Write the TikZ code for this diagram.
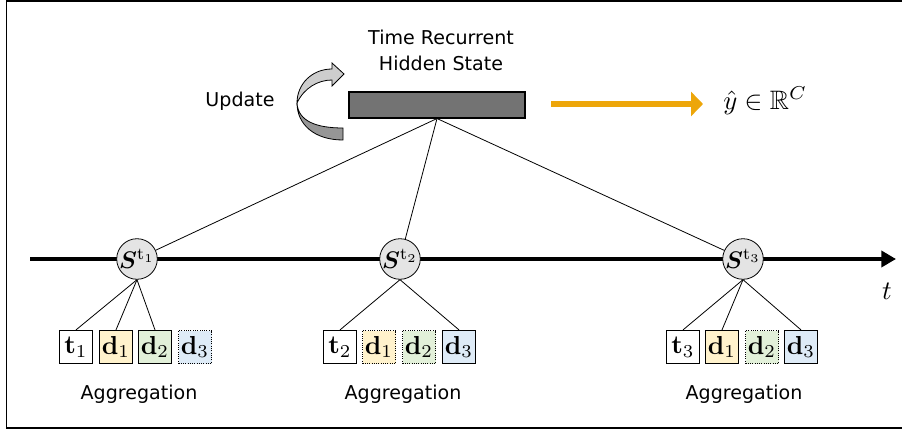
\documentclass[tikz,border=0pt]{standalone}
\usepackage{graphicx}
\usepackage{amsmath,amssymb,bm}
\usepackage[no-math]{fontspec}
\setmainfont{DejaVu Sans}
\usetikzlibrary{arrows.meta}
\definecolor{circgray}{RGB}{228,228,228}
\definecolor{hsgray}{RGB}{115,115,115}
\definecolor{orangeA}{RGB}{237,166,10}
\definecolor{dAfill}{RGB}{255,242,204}
\definecolor{dBfill}{RGB}{226,240,217}
\definecolor{dCfill}{RGB}{222,235,247}
\definecolor{arrlight}{RGB}{205,205,205}
\definecolor{arrdark}{RGB}{150,150,150}
\newcommand{\bxm}[1]{\scalebox{1.95}{$#1$}}
\newcommand{\stm}[1]{\scalebox{1.8}{$\boldsymbol{S}^{\mathrm{t}_{#1}}$}}
\begin{document}
\begin{tikzpicture}[x=0.75pt,y=-0.75pt,
  lbl/.style={font=\fontsize{14.3}{19.5}\selectfont, inner sep=0pt, align=center},
  snode/.style={circle, draw, fill=circgray, minimum size=30pt, inner sep=0pt, line width=0.6pt, font=\fontsize{10}{12}\selectfont},
  box/.style={draw, minimum size=24.75pt, inner sep=0pt, line width=0.9pt, font=\fontsize{10}{12}\selectfont},
  dbox/.style={box, line width=0.7pt, densely dotted},
  conn/.style={line width=0.6pt},
]
\useasboundingbox (0,0) rectangle (902,431);
% frame
\draw[line width=1.4pt] (902,1) -- (6.5,1) -- (6.5,428) -- (902,428);

% timeline
\coordinate (tl0) at (30,259);
\coordinate (tl1) at (896,259);
\draw[line width=3pt, -{Triangle[length=11pt,width=12pt]}] (tl0) -- (tl1);
\node[font=\fontsize{10}{12}\selectfont] (tlab) at (887,291) {\scalebox{2}{$t$}};

% hidden state
\node[lbl] (title) at (441,50) {Time Recurrent\\Hidden State};
\node[draw, fill=hsgray, minimum width=132pt, minimum height=19.5pt, inner sep=0pt, line width=0.8pt] (hs) at (437,105) {};
\node[lbl, anchor=center] (upd) at (240,101) {Update};

% update curved arrow
\fill[arrdark, draw=black, line width=0.6pt]
  (297,103) .. controls (298,121) and (316,128) .. (343,128)
  -- (343,140) .. controls (314,140) and (297,124) .. cycle;
\fill[arrlight, draw=black, line width=0.6pt]
  (297,103) .. controls (297,84) and (312,69) .. (332,69)
  -- (332,63) -- (344,74) -- (332,86) -- (332,80)
  .. controls (318,80) and (304,88) .. (297,103) -- cycle;

% output arrow
\coordinate (oa0) at (551,104);
\node[font=\fontsize{10}{12}\selectfont, anchor=west, inner sep=0pt] (yhat) at (723,101) {\scalebox{2}{$\hat{y}\in\mathbb{R}^{C}$}};
\draw[orangeA, line width=4.2pt, -{Triangle[length=9pt,width=18pt]}] (oa0) -- (703,104) coordinate (oa1);

% state nodes
\node[snode] (s1) at (137,259) {\stm{1}};
\node[snode] (s2) at (400,259) {\stm{2}};
\node[snode] (s3) at (743,259) {\stm{3}};

\draw[conn] (hs.south) -- (s1);
\draw[conn] (hs.south) -- (s2);
\draw[conn] (hs.south) -- (s3);

% group 1
\node[box, fill=white] (a1) at (76,347) {\bxm{\mathbf{t}_1}};
\node[box, fill=dAfill] (a2) at (116,347) {\bxm{\mathbf{d}_1}};
\node[box, fill=dBfill] (a3) at (155,347) {\bxm{\mathbf{d}_2}};
\node[dbox, fill=dCfill] (a4) at (195,347) {\bxm{\mathbf{d}_3}};
\draw[conn] (s1.south) -- (a1.north);
\draw[conn] (s1.south) -- (a2.north);
\draw[conn] (s1.south) -- (a3.north);
\node[lbl, anchor=base] (ag1) at (139,399) {Aggregation};

% group 2
\node[box, fill=white] (b1) at (340,347) {\bxm{\mathbf{t}_2}};
\node[dbox, fill=dAfill] (b2) at (379,347) {\bxm{\mathbf{d}_1}};
\node[dbox, fill=dBfill] (b3) at (419,347) {\bxm{\mathbf{d}_2}};
\node[box, fill=dCfill] (b4) at (459,347) {\bxm{\mathbf{d}_3}};
\draw[conn] (s2.south) -- (b1.north);
\draw[conn] (s2.south) -- (b4.north);
\node[lbl, anchor=base] (ag2) at (403,399) {Aggregation};

% group 3
\node[box, fill=white] (c1) at (683,347) {\bxm{\mathbf{t}_3}};
\node[box, fill=dAfill] (c2) at (722,347) {\bxm{\mathbf{d}_1}};
\node[dbox, fill=dBfill] (c3) at (762,347) {\bxm{\mathbf{d}_2}};
\node[box, fill=dCfill] (c4) at (801,347) {\bxm{\mathbf{d}_3}};
\draw[conn] (s3.south) -- (c1.north);
\draw[conn] (s3.south) -- (c2.north);
\draw[conn] (s3.south) -- (c4.north);
\node[lbl, anchor=base] (ag3) at (744,399) {Aggregation};
\end{tikzpicture}
\end{document}
